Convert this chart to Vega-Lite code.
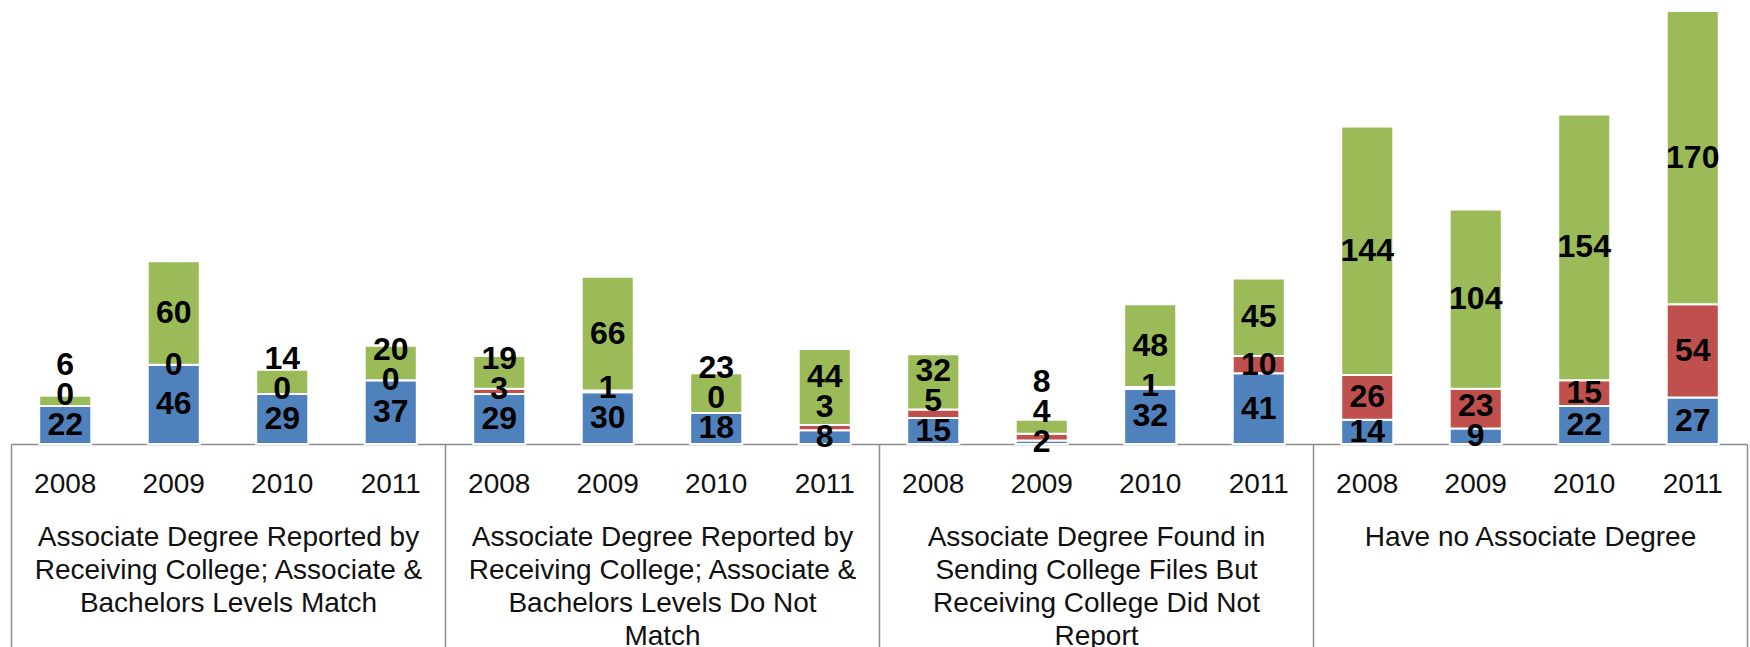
{
  "$schema": "https://vega.github.io/schema/vega-lite/v6.json",
  "width": 1736,
  "height": 433,
  "autosize": {"type": "none"},
  "padding": {"left": 11, "top": 11, "right": 3, "bottom": 203},
  "background": "white",
  "config": {"view": {"stroke": null}, "font": "Liberation Sans"},
  "datasets": {
    "rows": [
      {"group": "Associate Degree Reported by\nReceiving College; Associate &\nBachelors Levels Match", "slot": "1-2008", "series": "Series1", "value": 22},
      {"group": "Associate Degree Reported by\nReceiving College; Associate &\nBachelors Levels Match", "slot": "1-2008", "series": "Series2", "value": 0},
      {"group": "Associate Degree Reported by\nReceiving College; Associate &\nBachelors Levels Match", "slot": "1-2008", "series": "Series3", "value": 6},
      {"group": "Associate Degree Reported by\nReceiving College; Associate &\nBachelors Levels Match", "slot": "1-2009", "series": "Series1", "value": 46},
      {"group": "Associate Degree Reported by\nReceiving College; Associate &\nBachelors Levels Match", "slot": "1-2009", "series": "Series2", "value": 0},
      {"group": "Associate Degree Reported by\nReceiving College; Associate &\nBachelors Levels Match", "slot": "1-2009", "series": "Series3", "value": 60},
      {"group": "Associate Degree Reported by\nReceiving College; Associate &\nBachelors Levels Match", "slot": "1-2010", "series": "Series1", "value": 29},
      {"group": "Associate Degree Reported by\nReceiving College; Associate &\nBachelors Levels Match", "slot": "1-2010", "series": "Series2", "value": 0},
      {"group": "Associate Degree Reported by\nReceiving College; Associate &\nBachelors Levels Match", "slot": "1-2010", "series": "Series3", "value": 14},
      {"group": "Associate Degree Reported by\nReceiving College; Associate &\nBachelors Levels Match", "slot": "1-2011", "series": "Series1", "value": 37},
      {"group": "Associate Degree Reported by\nReceiving College; Associate &\nBachelors Levels Match", "slot": "1-2011", "series": "Series2", "value": 0},
      {"group": "Associate Degree Reported by\nReceiving College; Associate &\nBachelors Levels Match", "slot": "1-2011", "series": "Series3", "value": 20},
      {"group": "Associate Degree Reported by\nReceiving College; Associate &\nBachelors Levels Do Not\nMatch", "slot": "2-2008", "series": "Series1", "value": 29},
      {"group": "Associate Degree Reported by\nReceiving College; Associate &\nBachelors Levels Do Not\nMatch", "slot": "2-2008", "series": "Series2", "value": 3},
      {"group": "Associate Degree Reported by\nReceiving College; Associate &\nBachelors Levels Do Not\nMatch", "slot": "2-2008", "series": "Series3", "value": 19},
      {"group": "Associate Degree Reported by\nReceiving College; Associate &\nBachelors Levels Do Not\nMatch", "slot": "2-2009", "series": "Series1", "value": 30},
      {"group": "Associate Degree Reported by\nReceiving College; Associate &\nBachelors Levels Do Not\nMatch", "slot": "2-2009", "series": "Series2", "value": 1},
      {"group": "Associate Degree Reported by\nReceiving College; Associate &\nBachelors Levels Do Not\nMatch", "slot": "2-2009", "series": "Series3", "value": 66},
      {"group": "Associate Degree Reported by\nReceiving College; Associate &\nBachelors Levels Do Not\nMatch", "slot": "2-2010", "series": "Series1", "value": 18},
      {"group": "Associate Degree Reported by\nReceiving College; Associate &\nBachelors Levels Do Not\nMatch", "slot": "2-2010", "series": "Series2", "value": 0},
      {"group": "Associate Degree Reported by\nReceiving College; Associate &\nBachelors Levels Do Not\nMatch", "slot": "2-2010", "series": "Series3", "value": 23},
      {"group": "Associate Degree Reported by\nReceiving College; Associate &\nBachelors Levels Do Not\nMatch", "slot": "2-2011", "series": "Series1", "value": 8},
      {"group": "Associate Degree Reported by\nReceiving College; Associate &\nBachelors Levels Do Not\nMatch", "slot": "2-2011", "series": "Series2", "value": 3},
      {"group": "Associate Degree Reported by\nReceiving College; Associate &\nBachelors Levels Do Not\nMatch", "slot": "2-2011", "series": "Series3", "value": 44},
      {"group": "Associate Degree Found in\nSending College Files But\nReceiving College Did Not\nReport", "slot": "3-2008", "series": "Series1", "value": 15},
      {"group": "Associate Degree Found in\nSending College Files But\nReceiving College Did Not\nReport", "slot": "3-2008", "series": "Series2", "value": 5},
      {"group": "Associate Degree Found in\nSending College Files But\nReceiving College Did Not\nReport", "slot": "3-2008", "series": "Series3", "value": 32},
      {"group": "Associate Degree Found in\nSending College Files But\nReceiving College Did Not\nReport", "slot": "3-2009", "series": "Series1", "value": 2},
      {"group": "Associate Degree Found in\nSending College Files But\nReceiving College Did Not\nReport", "slot": "3-2009", "series": "Series2", "value": 4},
      {"group": "Associate Degree Found in\nSending College Files But\nReceiving College Did Not\nReport", "slot": "3-2009", "series": "Series3", "value": 8},
      {"group": "Associate Degree Found in\nSending College Files But\nReceiving College Did Not\nReport", "slot": "3-2010", "series": "Series1", "value": 32},
      {"group": "Associate Degree Found in\nSending College Files But\nReceiving College Did Not\nReport", "slot": "3-2010", "series": "Series2", "value": 1},
      {"group": "Associate Degree Found in\nSending College Files But\nReceiving College Did Not\nReport", "slot": "3-2010", "series": "Series3", "value": 48},
      {"group": "Associate Degree Found in\nSending College Files But\nReceiving College Did Not\nReport", "slot": "3-2011", "series": "Series1", "value": 41},
      {"group": "Associate Degree Found in\nSending College Files But\nReceiving College Did Not\nReport", "slot": "3-2011", "series": "Series2", "value": 10},
      {"group": "Associate Degree Found in\nSending College Files But\nReceiving College Did Not\nReport", "slot": "3-2011", "series": "Series3", "value": 45},
      {"group": "Have no Associate Degree", "slot": "4-2008", "series": "Series1", "value": 14},
      {"group": "Have no Associate Degree", "slot": "4-2008", "series": "Series2", "value": 26},
      {"group": "Have no Associate Degree", "slot": "4-2008", "series": "Series3", "value": 144},
      {"group": "Have no Associate Degree", "slot": "4-2009", "series": "Series1", "value": 9},
      {"group": "Have no Associate Degree", "slot": "4-2009", "series": "Series2", "value": 23},
      {"group": "Have no Associate Degree", "slot": "4-2009", "series": "Series3", "value": 104},
      {"group": "Have no Associate Degree", "slot": "4-2010", "series": "Series1", "value": 22},
      {"group": "Have no Associate Degree", "slot": "4-2010", "series": "Series2", "value": 15},
      {"group": "Have no Associate Degree", "slot": "4-2010", "series": "Series3", "value": 154},
      {"group": "Have no Associate Degree", "slot": "4-2011", "series": "Series1", "value": 27},
      {"group": "Have no Associate Degree", "slot": "4-2011", "series": "Series2", "value": 54},
      {"group": "Have no Associate Degree", "slot": "4-2011", "series": "Series3", "value": 170}
    ]
  },
  "data": {"name": "rows"},
  "layer": [
    {
      "mark": {"type": "bar", "width": {"band": 0.48}, "stroke": "white", "strokeWidth": 2},
      "encoding": {
        "x": {
          "field": "slot", "type": "nominal",
          "scale": {"paddingInner": 0, "paddingOuter": 0},
          "axis": {
            "title": null, "orient": "bottom", "labelAngle": 0,
            "labelExpr": "slice(datum.value, 2)",
            "domain": true, "domainColor": "#8c8c8c", "domainWidth": 1.5,
            "ticks": false, "labelPadding": 26,
            "labelFont": "Liberation Sans", "labelFontSize": 28, "labelColor": "#111",
            "labelOverlap": false, "labelFlush": false
          }
        },
        "y": {
          "field": "value", "type": "quantitative", "stack": "zero",
          "scale": {"domain": [0, 251], "nice": false, "zero": true},
          "axis": null
        },
        "color": {
          "field": "series", "type": "nominal",
          "scale": {"domain": ["Series1", "Series2", "Series3"], "range": ["#4F81BD", "#C0504D", "#9BBB59"]},
          "legend": null
        },
        "order": {"field": "series", "sort": "ascending"}
      }
    },
    {
      "transform": [
        {"stack": "value", "groupby": ["slot"], "sort": [{"field": "series", "order": "ascending"}], "as": ["v0", "v1"]},
        {"calculate": "(datum.v0 + datum.v1) / 2", "as": "mid"},
        {"window": [{"op": "lag", "field": "mid", "param": 1, "as": "mid1"}, {"op": "lag", "field": "mid", "param": 2, "as": "mid2"}], "groupby": ["slot"], "sort": [{"field": "series", "order": "ascending"}]},
        {"calculate": "max(datum.mid, datum.mid1 != null ? datum.mid1 + 17.5 : 0, datum.mid2 != null ? datum.mid2 + 35 : 0)", "as": "labelAt"}
      ],
      "mark": {"type": "text", "font": "Liberation Sans", "fontSize": 32, "fontWeight": "bold", "color": "#000", "baseline": "middle"},
      "encoding": {
        "x": {"field": "slot", "type": "nominal", "scale": {"paddingInner": 0, "paddingOuter": 0}, "axis": null},
        "y": {"field": "labelAt", "type": "quantitative"},
        "text": {"field": "value", "type": "quantitative"}
      }
    },
    {
      "mark": {"type": "point", "opacity": 0},
      "encoding": {
        "x": {
          "field": "group", "type": "nominal", "sort": null,
          "scale": {"paddingInner": 0, "paddingOuter": 0},
          "axis": {
            "title": null, "orient": "bottom", "labelAngle": 0,
            "labelExpr": "isString(datum.value) ? split(datum.value, '\\n') : ''",
            "domain": false, "ticks": true, "tickBand": "extent",
            "tickSize": 203, "tickColor": "#8c8c8c", "tickWidth": 1.5,
            "labelPadding": -124, "labelBaseline": "top",
            "labelFont": "Liberation Sans", "labelFontSize": 28, "labelColor": "#111",
            "labelLineHeight": 33, "labelLimit": 0,
            "labelOverlap": false, "labelFlush": false
          }
        }
      }
    }
  ],
  "resolve": {"scale": {"x": "independent"}, "axis": {"x": "independent"}}
}
